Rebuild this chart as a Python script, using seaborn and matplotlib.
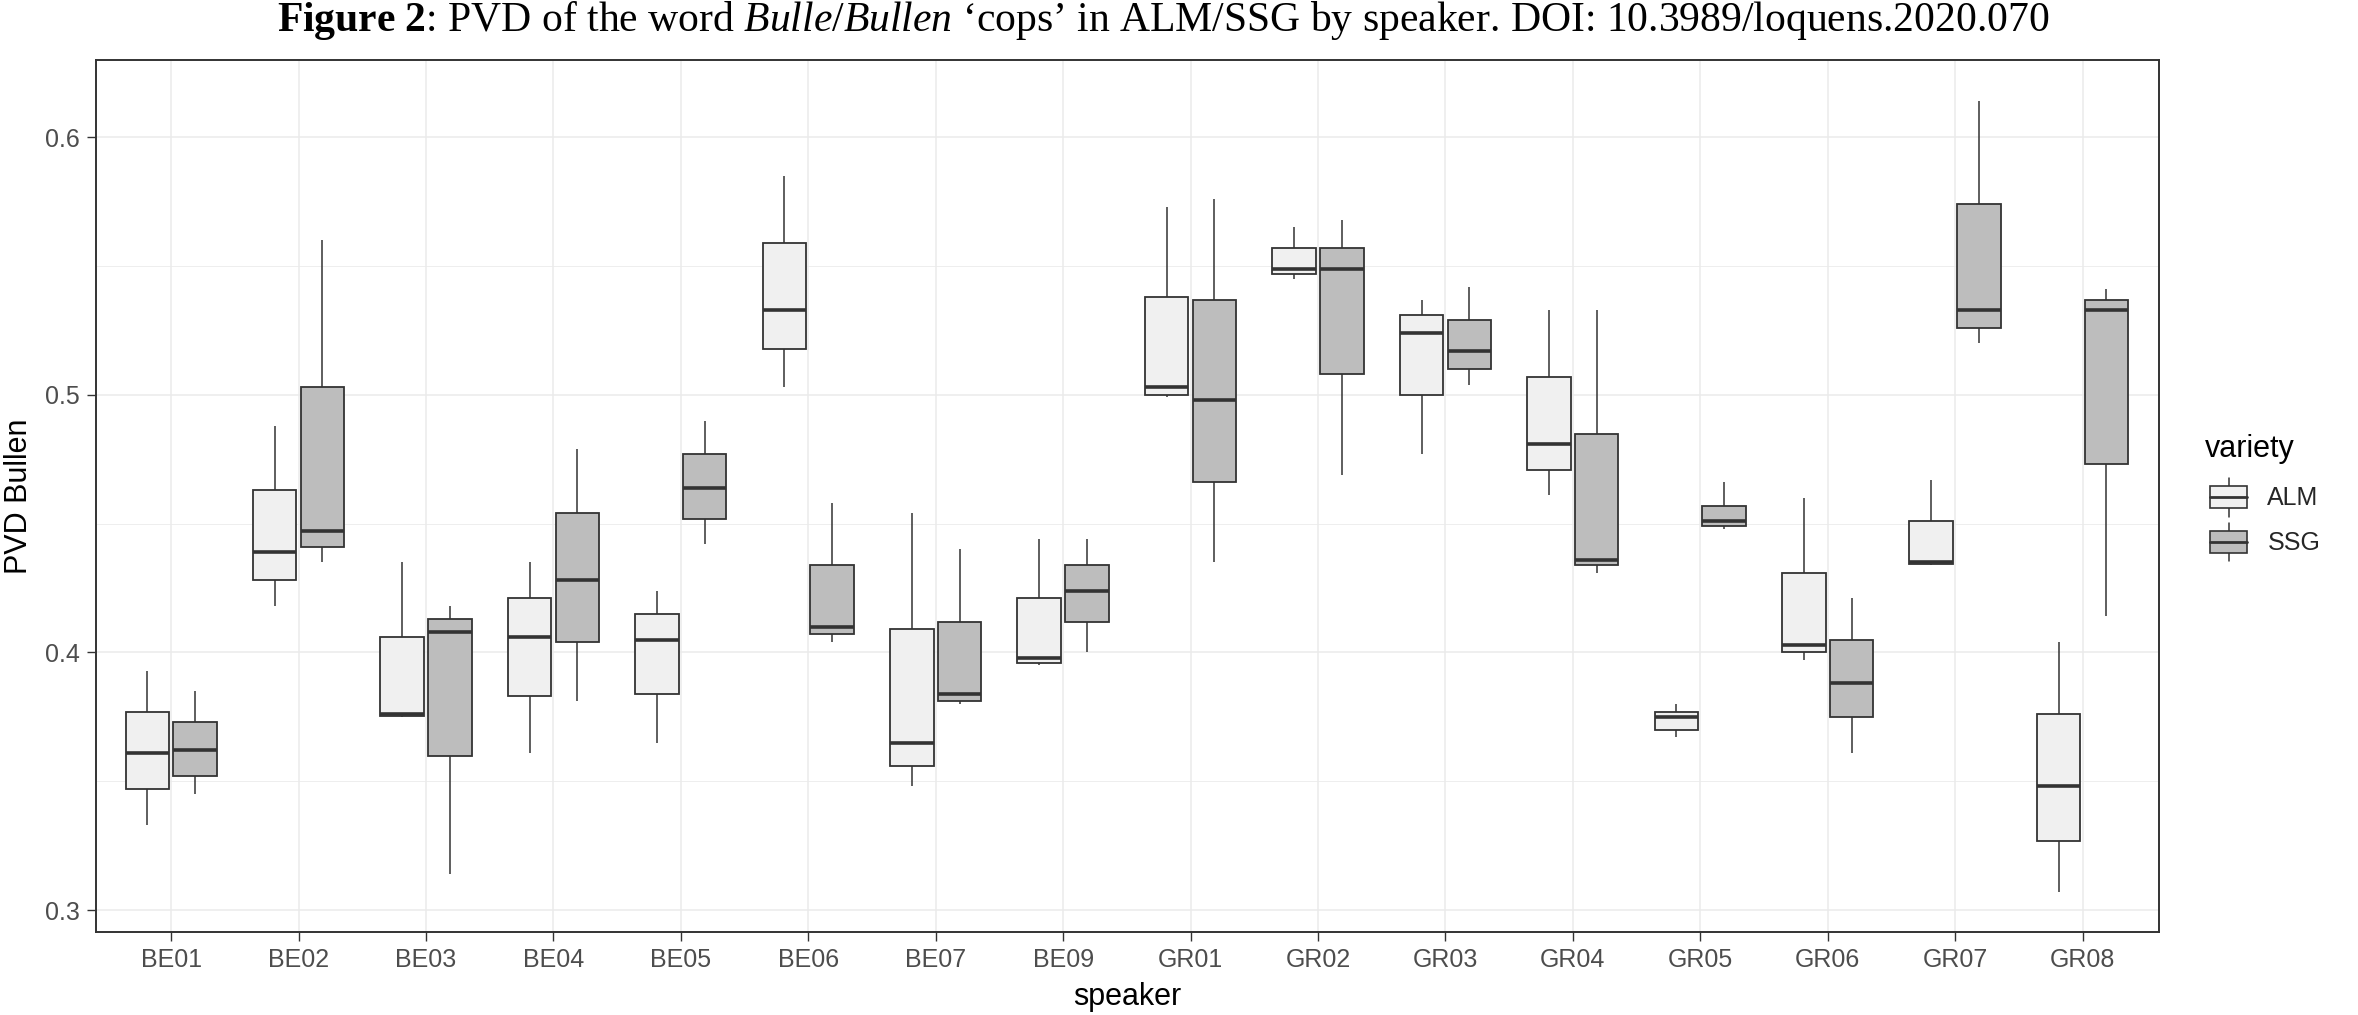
import numpy as np
import pandas as pd
import matplotlib
matplotlib.use("Agg")
import matplotlib.pyplot as plt
import seaborn as sns
from matplotlib.patches import Rectangle, Patch
from matplotlib.lines import Line2D
from matplotlib.legend_handler import HandlerBase
from matplotlib.ticker import FixedLocator, MultipleLocator

# five values per box: min, q1, median, q3, max
speakers = ['BE01', 'BE02', 'BE03', 'BE04', 'BE05', 'BE06', 'BE07', 'BE09',
            'GR01', 'GR02', 'GR03', 'GR04', 'GR05', 'GR06', 'GR07', 'GR08']
varieties = ['ALM', 'SSG']

alm_vals = [
    [0.333, 0.347, 0.361, 0.377, 0.393],
    [0.418, 0.428, 0.439, 0.463, 0.488],
    [0.375, 0.3755, 0.376, 0.406, 0.435],
    [0.361, 0.383, 0.406, 0.421, 0.435],
    [0.365, 0.384, 0.405, 0.415, 0.424],
    [0.503, 0.518, 0.533, 0.559, 0.585],
    [0.348, 0.356, 0.365, 0.409, 0.454],
    [0.395, 0.396, 0.398, 0.421, 0.444],
    [0.499, 0.500, 0.503, 0.538, 0.573],
    [0.545, 0.547, 0.549, 0.557, 0.565],
    [0.477, 0.500, 0.524, 0.531, 0.537],
    [0.461, 0.471, 0.481, 0.507, 0.533],
    [0.367, 0.370, 0.375, 0.377, 0.380],
    [0.397, 0.400, 0.403, 0.431, 0.460],
    [0.434, 0.4345, 0.435, 0.451, 0.467],
    [0.307, 0.327, 0.348, 0.376, 0.404],
]
ssg_vals = [
    [0.345, 0.352, 0.362, 0.373, 0.385],
    [0.435, 0.441, 0.447, 0.503, 0.560],
    [0.314, 0.360, 0.408, 0.413, 0.418],
    [0.381, 0.404, 0.428, 0.454, 0.479],
    [0.442, 0.452, 0.464, 0.477, 0.490],
    [0.404, 0.407, 0.410, 0.434, 0.458],
    [0.380, 0.381, 0.384, 0.412, 0.440],
    [0.400, 0.412, 0.424, 0.434, 0.444],
    [0.435, 0.466, 0.498, 0.537, 0.576],
    [0.469, 0.508, 0.549, 0.557, 0.568],
    [0.504, 0.510, 0.517, 0.529, 0.542],
    [0.431, 0.434, 0.436, 0.485, 0.533],
    [0.448, 0.449, 0.451, 0.457, 0.466],
    [0.361, 0.375, 0.388, 0.405, 0.421],
    [0.520, 0.526, 0.533, 0.574, 0.614],
    [0.414, 0.473, 0.533, 0.537, 0.541],
]
fill_colors = {'ALM': '#F0F0F0', 'SSG': '#BDBDBD'}
yticks = [0.3, 0.4, 0.5, 0.6]

rows = []
for spk, a, s in zip(speakers, alm_vals, ssg_vals):
    for v in a:
        rows.append((spk, 'ALM', v))
    for v in s:
        rows.append((spk, 'SSG', v))
df = pd.DataFrame(rows, columns=['speaker', 'variety', 'pvd'])

sns.set_style('white')
plt.rcParams['font.family'] = ['Liberation Sans', 'DejaVu Sans']
plt.rcParams['mathtext.fontset'] = 'custom'
plt.rcParams['mathtext.rm'] = 'Liberation Serif'
plt.rcParams['mathtext.it'] = 'Liberation Serif:italic'
plt.rcParams['mathtext.bf'] = 'Liberation Serif:bold'

edge = '#333333'
fig = plt.figure(figsize=(23.58, 10.15), dpi=100)
ax = fig.add_axes([0.0407, 0.0818, 0.8749, 0.8591])

sns.boxplot(data=df, x='speaker', y='pvd', hue='variety', order=speakers,
            hue_order=varieties, palette=fill_colors, saturation=1,
            width=0.75, gap=0.09, whis=(0, 100), showcaps=False,
            showfliers=False, linecolor=edge, linewidth=1.3,
            medianprops=dict(linewidth=2.6, color=edge),
            whiskerprops=dict(linewidth=1.1, color=edge),
            legend=False, ax=ax)

ax.set_xlim(-0.59, 15.6)
ax.set_ylim(0.2915, 0.630)
ax.yaxis.set_major_locator(FixedLocator(yticks))
ax.set_yticklabels([f'{t:.1f}' for t in yticks])
ax.yaxis.set_minor_locator(MultipleLocator(0.05))
ax.set_axisbelow(True)
ax.grid(which='major', color='#EBEBEB', linewidth=1.1)
ax.grid(which='minor', axis='y', color='#EBEBEB', linewidth=0.6)
ax.tick_params(which='minor', length=0)
ax.tick_params(which='major', length=6.5, width=1.0, color=edge,
               labelsize=18, labelcolor='#4D4D4D', direction='out')
ax.tick_params(axis='x', pad=5)
ax.tick_params(axis='y', pad=5)
ax.tick_params(bottom=True, left=True)
for sp in ax.spines.values():
    sp.set_visible(True)
    sp.set_color(edge)
    sp.set_linewidth(1.4)

ax.set_xlabel('speaker', fontsize=22, color='black', labelpad=7)
ax.set_ylabel('PVD Bullen', fontsize=22, color='black', labelpad=8)


class BoxKey(HandlerBase):
    # ggplot-style key: box with median line and whiskers
    def create_artists(self, legend, orig_handle, xdescent, ydescent,
                       width, height, fontsize, trans):
        bw = width
        bh = height * 0.56
        y0 = (height - bh) / 2 - ydescent
        x0 = -xdescent
        rect = Rectangle((x0, y0), bw, bh, facecolor=orig_handle.get_facecolor(),
                         edgecolor=edge, linewidth=1.2, transform=trans)
        med = Line2D([x0, x0 + bw], [y0 + bh / 2] * 2, color=edge,
                     linewidth=2.0, transform=trans)
        cx = x0 + bw / 2
        w1 = Line2D([cx, cx], [y0 + bh, height - ydescent], color=edge,
                    linewidth=1.1, transform=trans)
        w2 = Line2D([cx, cx], [-ydescent, y0], color=edge,
                    linewidth=1.1, transform=trans)
        return [w1, w2, rect, med]


handles = [Patch(facecolor=fill_colors[v]) for v in varieties]
leg = fig.legend(handles, varieties, handler_map={Patch: BoxKey()},
                 loc='upper left', bbox_to_anchor=(0.9372, 0.5291),
                 frameon=False, fontsize=18, handlelength=1.5,
                 handleheight=2.0, labelspacing=0.24, handletextpad=0.8,
                 borderpad=0, borderaxespad=0)
fig.text(0.9351, 0.5498, 'variety', fontsize=22, ha='left', va='baseline',
         color='black')

title = (r'$\mathbf{Figure\ 2}$: PVD of the word $\mathit{Bulle/Bullen}$'
         ' \u2018cops\u2019 in ALM/SSG by speaker. DOI: 10.3989/loquens.2020.070')
fig.text(0.4934, 0.9695, title, ha='center', va='baseline', fontsize=30,
         family='Liberation Serif', color='black')

fig.savefig('out.png', dpi=100)
